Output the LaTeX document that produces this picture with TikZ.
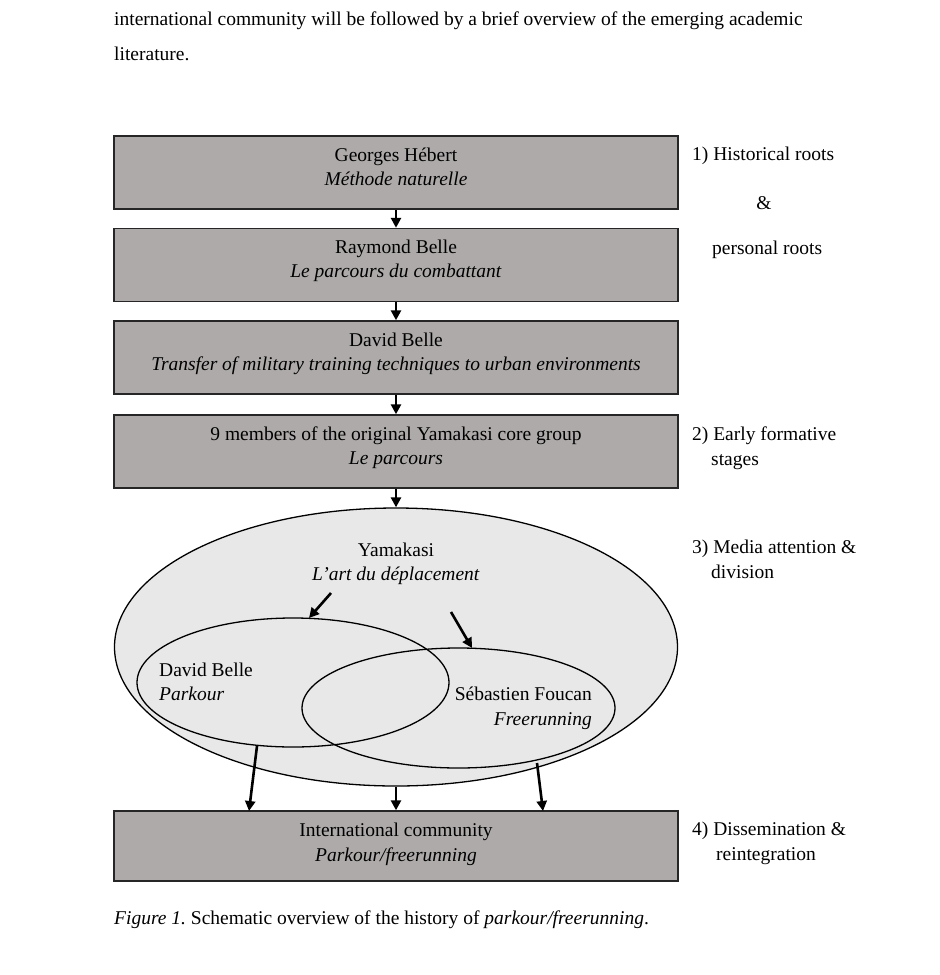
\documentclass[tikz,border=0pt]{standalone}
\usepackage{fontspec}
\setmainfont{Liberation Serif}
\usetikzlibrary{arrows.meta,shapes.geometric}
\definecolor{boxgray}{HTML}{AEAAAA}
\definecolor{ellgray}{HTML}{E8E8E8}
\frenchspacing
\tikzset{
  stagebox/.style={draw=black!85, line width=1.4pt, fill=boxgray, minimum width=564pt, minimum height=73pt, inner sep=0pt},
  txt/.style={inner sep=0pt, font=\fontsize{19.5}{24}\selectfont},
  arr/.style={line width=2.6pt, -{Triangle[length=10pt,width=10pt]}},
  ell/.style={ellipse, draw=black, line width=1.3pt, inner sep=0pt}
}
\begin{document}
\begin{tikzpicture}[x=1pt,y=-1pt]
\useasboundingbox[fill=white] (0,0) rectangle (940,975);
% top paragraph
\node[txt, anchor=base west] (p1) at (114,25) {international community will be followed by a brief overview of the emerging academic};
\node[txt, anchor=base west] (p2) at (114,60) {literature.};
% boxes
\node[stagebox] (b1) at (396,172.5) {};
\node[stagebox] (b2) at (396,265) {};
\node[stagebox] (b3) at (396,357.5) {};
\node[stagebox] (b4) at (396,451.5) {};
\node[stagebox, minimum height=70pt] (b5) at (396,846) {};
\node[txt, anchor=base] (t1a) at (396,161) {Georges Hébert};
\node[txt, anchor=base] (t1b) at (396,185) {\textit{Méthode naturelle}};
\node[txt, anchor=base] (t2a) at (396,253) {Raymond Belle};
\node[txt, anchor=base] (t2b) at (396,277) {\textit{Le parcours du combattant}};
\node[txt, anchor=base] (t3a) at (396,346) {David Belle};
\node[txt, anchor=base] (t3b) at (396,370) {\textit{Transfer of military training techniques to urban environments}};
\node[txt, anchor=base] (t4a) at (396,440) {9 members of the original Yamakasi core group};
\node[txt, anchor=base] (t4b) at (396,464) {\textit{Le parcours}};
\node[txt, anchor=base] (t5a) at (396,836) {International community};
\node[txt, anchor=base] (t5b) at (396,861) {\textit{Parkour/freerunning}};
% ellipses
\node[ell, fill=ellgray, minimum width=563pt, minimum height=278pt] (big) at (396,647) {};
\node[ell, minimum width=312pt, minimum height=129pt] (left) at (293,682.5) {};
\node[ell, minimum width=313pt, minimum height=120pt] (right) at (458.5,708) {};
\node[txt, anchor=base] (yam) at (396,556) {Yamakasi};
\node[txt, anchor=base] (art) at (396,580) {\textit{L’art du déplacement}};
\node[txt, anchor=base west] (db) at (159,676) {David Belle};
\node[txt, anchor=base west] (pk) at (159,700) {\textit{Parkour}};
\node[txt, anchor=base east] (sf) at (592,700) {Sébastien Foucan};
\node[txt, anchor=base east] (fr) at (592,725) {\textit{Freerunning}};
% arrows between boxes
\draw[arr] (b1.south) -- (b2.north);
\draw[arr] (b2.south) -- (b3.north);
\draw[arr] (b3.south) -- (b4.north);
\draw[arr] (b4.south) -- (big.north);
% inner arrows
\coordinate (a1s) at (331,593); \coordinate (a1e) at (309,618);
\coordinate (a2s) at (451,612); \coordinate (a2e) at (472,648);
\draw[arr] (a1s) -- (a1e);
\draw[arr] (a2s) -- (a2e);
% arrows to bottom box
\coordinate (l1) at (257,746); \coordinate (l2) at (249,811);
\draw[arr] (l1) -- (l2);
\draw[arr] (big.south) -- (b5.north);
\coordinate (r1) at (537,763); \coordinate (r2) at (543,811);
\draw[arr] (r1) -- (r2);
% stage labels
\node[txt, anchor=base west] (s1) at (692,160) {1) Historical roots};
\node[txt, anchor=base] (s1a) at (764,209) {\&};
\node[txt, anchor=base west] (s1b) at (712,254) {personal roots};
\node[txt, anchor=base west] (s2) at (692,440) {2) Early formative};
\node[txt, anchor=base west] (s2b) at (711,465) {stages};
\node[txt, anchor=base west] (s3) at (692,553) {3) Media attention \&};
\node[txt, anchor=base west] (s3b) at (711,578) {division};
\node[txt, anchor=base west] (s4) at (692,835) {4) Dissemination \&};
\node[txt, anchor=base west] (s4b) at (716,860) {reintegration};
% caption
\node[txt, anchor=base west] (cap) at (114,924) {\textit{Figure 1.} Schematic overview of the history of \textit{parkour/freerunning}.};
\end{tikzpicture}
\end{document}
